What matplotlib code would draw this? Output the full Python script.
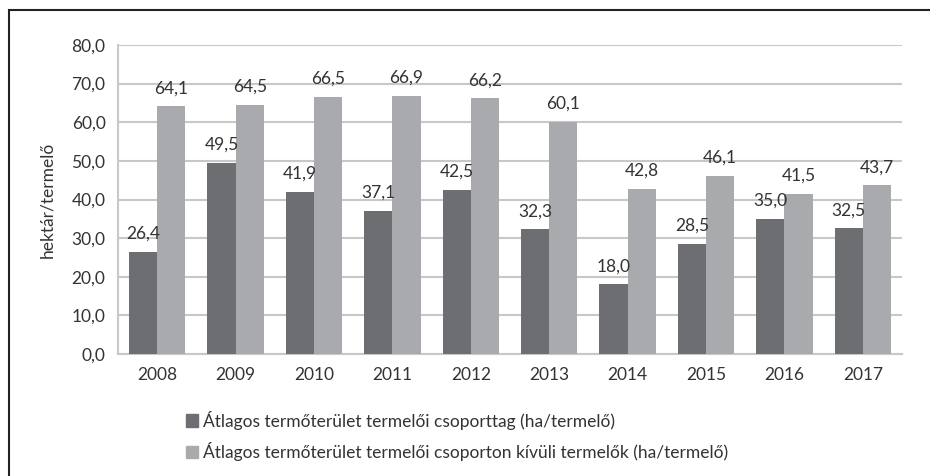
import matplotlib.pyplot as plt
import numpy as np
from matplotlib.patches import Rectangle, Patch

years = ['2008', '2009', '2010', '2011', '2012', '2013', '2014', '2015', '2016', '2017']
members = [26.4, 49.5, 41.9, 37.1, 42.5, 32.3, 18.0, 28.5, 35.0, 32.5]
non_members = [64.1, 64.5, 66.5, 66.9, 66.2, 60.1, 42.8, 46.1, 41.5, 43.7]
labels = ['Átlagos termőterület termelői csoporttag (ha/termelő)',
          'Átlagos termőterület termelői csoporton kívüli termelők (ha/termelő)']

dark = '#6d6e71'
light = '#a9aaad'
text_col = '#333333'

plt.rcParams['font.family'] = ['Lato', 'DejaVu Sans']

fig = plt.figure(figsize=(9.3, 4.76), dpi=100)
ax = fig.add_axes([118 / 930, 1 - 354 / 476, (902 - 118) / 930, (354 - 45) / 476])

x = np.arange(len(years))
w = 0.36
b1 = ax.bar(x - w / 2, members, w, color=dark, zorder=3)
b2 = ax.bar(x + w / 2, non_members, w, color=light, zorder=3)

fmt = lambda v: f'{v:.1f}'.replace('.', ',')
for bars, vals in ((b1, members), (b2, non_members)):
    for r, v in zip(bars, vals):
        ax.text(r.get_x() + r.get_width() / 2, v + 2.6, fmt(v), ha='center', va='bottom',
                fontsize=12.5, color=text_col)

ax.set_xlim(-0.5, len(years) - 0.5)
ax.set_ylim(0, 80)
ax.set_yticks(np.arange(0, 81, 10))
ax.set_yticklabels([fmt(v) for v in np.arange(0, 81, 10)], fontsize=12.5, color=text_col)
ax.set_xticks(x)
ax.set_xticklabels(years, fontsize=12.5, color=text_col)
ax.tick_params(length=0, pad=9)
ax.yaxis.grid(True, color='#c8c8c8', linewidth=1.5, zorder=0)
for s in ('top', 'right'):
    ax.spines[s].set_visible(False)
for s in ('left', 'bottom'):
    ax.spines[s].set_color('#c8c8c8')
    ax.spines[s].set_linewidth(1.5)
ax.set_ylabel('hektár/termelő', fontsize=12.5, color=text_col, va='center')
ax.yaxis.set_label_coords(-0.09, 0.5)

handles = [Patch(color=dark), Patch(color=light)]
fig.legend(handles, labels, loc='upper left', bbox_to_anchor=(170 / 930, 1 - 395 / 476),
           frameon=False, fontsize=12.5, handlelength=0.7, handleheight=0.7,
           handletextpad=0.3, labelspacing=0.7, labelcolor=text_col)

fig.patches.append(Rectangle((9 / 930, -0.1), 1.2, 1 - 10 / 476 + 0.1, transform=fig.transFigure,
                             fill=False, edgecolor='#222222', linewidth=1.5))

fig.savefig('out.png', dpi=100)
